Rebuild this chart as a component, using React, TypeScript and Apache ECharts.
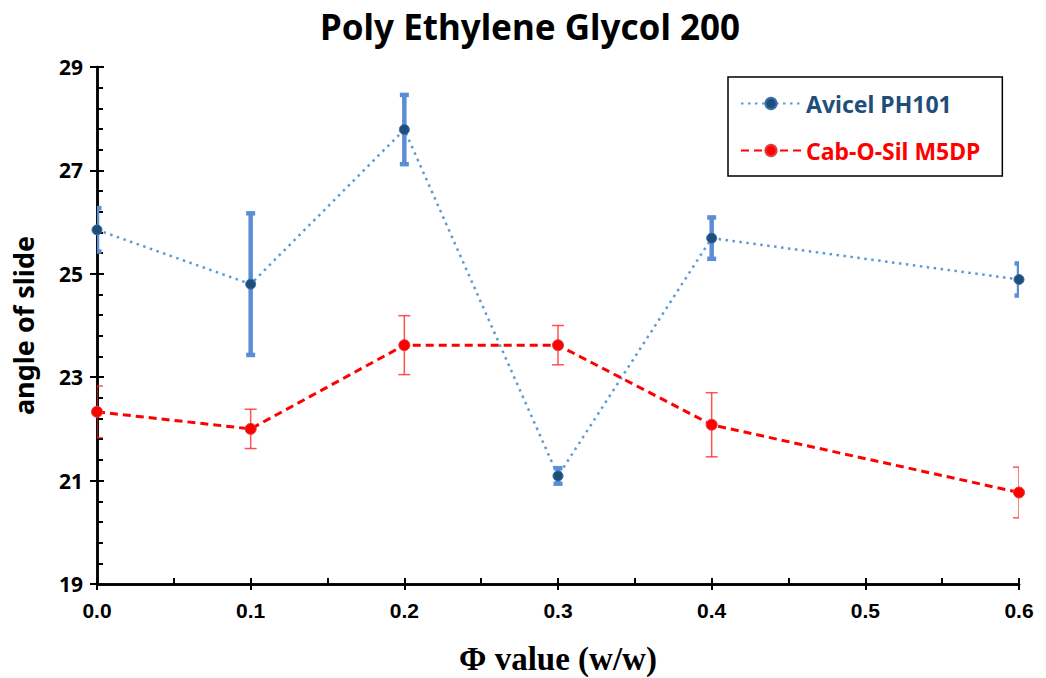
import React, { useEffect, useRef } from "react";
import * as echarts from "echarts";

const xValues = [0.0, 0.1, 0.2, 0.3, 0.4, 0.6];
const avicel = [25.85, 24.8, 27.79, 21.09, 25.69, 24.89];
const avicelErr = [0.42, 1.37, 0.67, 0.15, 0.4, 0.31];
const cabosil = [22.33, 22.0, 23.62, 23.62, 22.08, 20.77];
const cabosilErr = [0.5, 0.38, 0.57, 0.38, 0.62, 0.49];

const AVICEL = "Avicel PH101";
const CABOSIL = "Cab-O-Sil M5DP";

function errData(vals: number[], errs: number[]) {
  return xValues.map((x, i) => [x, vals[i] - errs[i], vals[i] + errs[i]]);
}

function errorRender(stroke: string, lineWidth: number, capHalf: number, capWidth: number) {
  return (params: any, api: any) => {
    const x = api.value(0);
    const lo = api.value(1);
    const hi = api.value(2);
    const pHi = api.coord([x, hi]);
    const pLo = api.coord([x, lo]);
    return {
      type: "group",
      children: [
        { type: "line", shape: { x1: pHi[0], y1: pHi[1], x2: pLo[0], y2: pLo[1] }, style: { stroke, lineWidth } },
        { type: "line", shape: { x1: pHi[0] - capHalf, y1: pHi[1], x2: pHi[0] + capHalf, y2: pHi[1] }, style: { stroke, lineWidth: capWidth } },
        { type: "line", shape: { x1: pLo[0] - capHalf, y1: pLo[1], x2: pLo[0] + capHalf, y2: pLo[1] }, style: { stroke, lineWidth: capWidth } },
      ],
    };
  };
}

export default function App() {
  const ref = useRef<HTMLDivElement>(null);
  useEffect(() => {
    document.body.style.margin = "0";
    const chart = echarts.init(ref.current!, null, { renderer: "svg" });
    const axisBase = {
      type: "value",
      min: 0,
      max: 0.6,
      interval: 0.1,
      position: "bottom",
      axisLine: { onZero: false, lineStyle: { color: "#000", width: 2.5 } },
      splitLine: { show: false },
    };
    const yBase = {
      type: "value",
      min: 19,
      max: 29,
      interval: 2,
      position: "left",
      axisLine: { onZero: false, lineStyle: { color: "#000", width: 2.5 } },
      splitLine: { show: false },
    };
    chart.setOption({
      animation: false,
      backgroundColor: "#fff",
      title: {
        text: "Poly Ethylene Glycol 200",
        left: 525,
        textAlign: "center",
        top: 4,
        textStyle: { fontFamily: "Noto Sans", fontWeight: "bold", fontSize: 35, color: "#000" },
      },
      grid: { left: 97, right: 27, top: 67, bottom: 94, outerBoundsMode: "none", containLabel: false },
      legend: {
        orient: "vertical",
        left: 728,
        top: 77,
        padding: [15, 22, 14, 12],
        itemGap: 24,
        itemWidth: 60,
        itemHeight: 14,
        borderColor: "#000",
        borderWidth: 1.5,
        backgroundColor: "#fff",
        data: [
          { name: AVICEL, textStyle: { color: "#1F4E79" } },
          { name: CABOSIL, textStyle: { color: "#FF0000" } },
        ],
        textStyle: { fontFamily: "Noto Sans", fontWeight: "bold", fontSize: 23 },
      },
      xAxis: [
        {
          ...axisBase,
          name: "Φ value (w/w)",
          nameLocation: "middle",
          nameGap: 58,
          nameTextStyle: { fontFamily: "Liberation Serif", fontWeight: "bold", fontSize: 33, color: "#000" },
          axisTick: { show: true, inside: false, length: 6, lineStyle: { color: "#000", width: 2 } },
          minorTick: { show: false },
          axisLabel: {
            margin: 16,
            formatter: (v: number) => v.toFixed(1),
            fontFamily: "Liberation Sans Narrow, Liberation Sans",
            fontWeight: "bold",
            fontSize: 21,
            color: "#000",
          },
        },
        {
          ...axisBase,
          axisTick: { show: true, inside: true, length: 6, lineStyle: { color: "#000", width: 2 } },
          minorTick: { show: true, splitNumber: 2, length: 6, lineStyle: { color: "#000", width: 2 } },
          axisLabel: { show: false },
        },
      ],
      yAxis: [
        {
          ...yBase,
          name: "angle of slide",
          nameLocation: "middle",
          nameGap: 60,
          nameTextStyle: { fontFamily: "Noto Sans", fontWeight: "bold", fontSize: 27, color: "#000" },
          axisTick: { show: true, inside: false, length: 7, lineStyle: { color: "#000", width: 2 } },
          minorTick: { show: false },
          axisLabel: {
            margin: 14,
            fontFamily: "Noto Sans",
            fontWeight: "bold",
            fontSize: 21,
            color: "#000",
          },
        },
        {
          ...yBase,
          axisTick: { show: true, inside: true, length: 7, lineStyle: { color: "#000", width: 2 } },
          minorTick: { show: true, splitNumber: 5, length: 6, lineStyle: { color: "#000", width: 2 } },
          axisLabel: { show: false },
        },
      ],
      series: [
        {
          type: "custom",
          name: "avicelErr",
          xAxisIndex: 0,
          yAxisIndex: 0,
          clip: true,
          z: 1,
          renderItem: errorRender("#5B8ED6", 4.5, 4.5, 4.5),
          encode: { x: 0, y: [1, 2] },
          data: errData(avicel, avicelErr),
        },
        {
          type: "custom",
          name: "cabosilErr",
          xAxisIndex: 0,
          yAxisIndex: 0,
          clip: true,
          z: 1,
          renderItem: errorRender("rgba(255,40,40,0.8)", 1.5, 6, 1.5),
          encode: { x: 0, y: [1, 2] },
          data: errData(cabosil, cabosilErr),
        },
        {
          type: "line",
          name: AVICEL,
          z: 3,
          data: xValues.map((x, i) => [x, avicel[i]]),
          symbol: "circle",
          symbolSize: 10,
          itemStyle: { color: "#1F4E79", borderColor: "#3A6EA8", borderWidth: 1 },
          lineStyle: { color: "#5B9BD5", width: 2.5, type: [2.5, 4.5] },
        },
        {
          type: "line",
          name: CABOSIL,
          z: 3,
          data: xValues.map((x, i) => [x, cabosil[i]]),
          symbol: "circle",
          symbolSize: 11,
          itemStyle: { color: "#FF0000", borderColor: "#E04040", borderWidth: 1 },
          lineStyle: { color: "#FF0000", width: 3, type: [8, 5] },
        },
      ],
    });
    return () => chart.dispose();
  }, []);
  return (
    <div
      ref={ref}
      style={{ position: "absolute", left: 0, top: 0, width: 1046, height: 678 }}
    />
  );
}
